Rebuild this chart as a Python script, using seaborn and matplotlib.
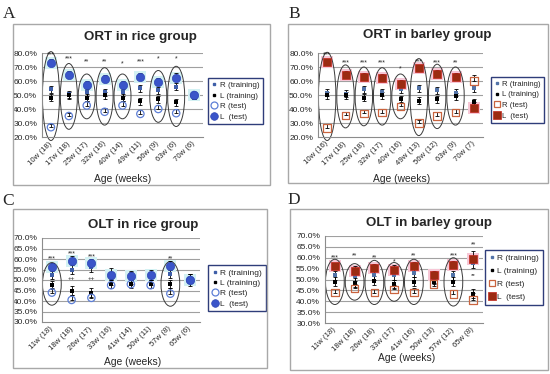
import numpy as np
import pandas as pd
import matplotlib
matplotlib.use("Agg")
import matplotlib.pyplot as plt
import matplotlib.transforms as mtransforms
import seaborn as sns
from matplotlib.lines import Line2D
from matplotlib.patches import Ellipse, Rectangle

# A - ORT in rice group
ort_rice_ages = ['10w (18)', '17w (18)', '25w (17)', '32w (16)', '40w (14)',
                 '49w (11)', '56w (9)', '63w (6)', '70w (6)']
ort_rice_L_test = [73, 64.5, 57, 61.5, 57, 63, 59.5, 62.5, 50]
ort_rice_R_test = [27, 35, 42.5, 38, 42.5, 36.5, 40, 37, 50]
ort_rice_R_train = [54, 50.5, 52, 52, 52, 55, 53.5, 56, 50]
ort_rice_L_train = [48, 50, 48, 50, 48, 45.5, 47, 45, 50]
ort_rice_err = [2.5, 2.5, 3, 2.5, 3, 3, 3, 3, 2]
ort_rice_stars = ['***', '***', '**', '**', '*', '***', '*', '*', '']
ort_rice_star_y = [80, 77, 75, 75, 73, 75, 77, 77, None]
ort_rice_circled = [1, 1, 1, 1, 1, 0, 1, 1, 0]

# B - ORT in barley group
ort_barley_ages = ['10w (16)', '17w (18)', '25w (18)', '32w (17)', '40w (16)',
                   '49w (13)', '56w (12)', '63w (9)', '70w (7)']
ort_barley_L_test = [73.5, 64.5, 63, 62.5, 58, 69, 65, 63, 40.5]
ort_barley_R_test = [26.5, 35.5, 37, 37.5, 42, 30, 35, 37.5, 60]
ort_barley_R_train = [51.5, 51, 54, 52, 54, 55, 53.5, 51.5, 55]
ort_barley_L_train = [50, 50, 48, 50, 47, 46, 47, 49, 45]
ort_barley_err = [2.5, 2.5, 2.5, 2.5, 3, 2.5, 3, 2.5, 4.5]
ort_barley_stars = ['***', '***', '***', '***', '*', '***', '***', '**', '']
ort_barley_star_y = [80, 73.6, 73.6, 73.6, 70, 75, 73.6, 73.6, None]
ort_barley_circled = [1, 1, 1, 1, 1, 1, 1, 1, 0]

# C - OLT in rice group
olt_rice_ages = ['11w (18)', '18w (18)', '26w (17)', '33w (16)', '41w (14)',
                 '50w (11)', '57w (8)', '65w (6)']
olt_rice_L_test = [56, 59, 58, 52.5, 52, 52.5, 56.5, 50]
olt_rice_R_test = [44, 40.5, 41.5, 47.5, 48, 47.5, 43.5, 50]
olt_rice_R_train = [52.5, 55, 56, 52, 52, 52, 53, 51]
olt_rice_L_train = [47.5, 45, 44, 48, 48, 48, 48, 49]
olt_rice_err = [2, 2.5, 2, 3, 2.5, 2.5, 2.5, 3]
olt_rice_stars = ['***', '***', '***', '', '', '', '**', '']
olt_rice_star_y = [61, 63.5, 62, None, None, None, 61, None]
olt_rice_marks = ['', '++', '++', '', '', '', '', '']
olt_rice_mark_y = [None, 50.5, 50.8, None, None, None, None, None]
olt_rice_circled = [1, 0, 0, 0, 0, 0, 1, 0]

# D - OLT in barley group
olt_barley_ages = ['11w (18)', '18w (18)', '26w (18)', '33w (17)', '41w (16)',
                   '50w (13)', '57w (12)', '65w (8)']
olt_barley_L_test = [56, 54, 55.5, 54.5, 56, 52, 56.7, 59.5]
olt_barley_R_test = [44, 46, 44, 45.5, 44, 48, 43.3, 40.5]
olt_barley_R_train = [52, 51.5, 52, 52, 53, 50.5, 52, 57.5]
olt_barley_L_train = [49, 48.5, 49.5, 48, 49, 49, 49, 43.5]
olt_barley_err = [1.5, 2, 1.5, 2, 2, 2, 2, 3.5]
olt_barley_stars = ['***', '**', '**', '*', '**', '', '***', '**']
olt_barley_star_y = [61, 61.7, 61, 59, 61.7, None, 61.7, 67]
olt_barley_marks = ['', '', '', '', '', '', '', '**']
olt_barley_mark_y = [None, None, None, None, None, None, None, 52]
olt_barley_circled = [1, 1, 1, 1, 1, 0, 1, 0]

legend_labels = ['R (training)', 'L (training)', 'R (test)', 'L  (test)']

W, H = 550, 374
GRAY = '#8C8C8C'

STYLES = {
    'rice': dict(marker='o', L_face='#3A55C9', L_edge='#2F47B5', R_edge='#5D7FD6',
                 halo='#D3F1F3', train_R='#3F5FA8'),
    'barley': dict(marker='s', L_face='#9B2B12', L_edge='#C3251C', R_edge='#C9643F',
                   halo='#F7C7D6', train_R='#5273A8'),
}


def fx(px):
    return px / W


def fy(py):
    return 1 - py / H


def draw_panel(fig, box, ages, L_test, R_test, R_train, L_train, err, tr_err,
               stars, star_y, circled, kind, yticks, pads, marks=None, mark_y=None):
    left, top, right, bottom = box
    ax = fig.add_axes([fx(left), fy(bottom), fx(right) - fx(left), fy(top) - fy(bottom)])
    st = STYLES[kind]
    n = len(ages)
    x = np.arange(n)
    df = pd.DataFrame({'x': x, 'L_test': L_test, 'R_test': R_test,
                       'R_train': R_train, 'L_train': L_train})

    # soft glow behind the L test markers
    ax.scatter(x, L_test, marker='s', s=80, color=st['halo'], lw=0, zorder=1)

    for i in x:
        if circled[i]:
            hi = max(L_test[i], R_test[i]) + pads[0]
            lo = min(L_test[i], R_test[i]) - pads[1]
            ax.add_patch(Ellipse((i, (hi + lo) / 2), 0.95, hi - lo, fill=False,
                                 ec='#3A3A3A', lw=0.7, zorder=2, clip_on=False))

    up = [np.zeros(n), err]
    ekw = dict(fmt='none', ecolor='black', elinewidth=0.6, capsize=1.5, capthick=0.6, zorder=3)
    ax.errorbar(x, L_test, yerr=up, **ekw)
    ax.errorbar(x, R_test, yerr=up, **ekw)
    ax.errorbar(x, R_train, yerr=tr_err, **ekw)
    ax.errorbar(x, L_train, yerr=tr_err, **ekw)

    sns.scatterplot(data=df, x='x', y='R_train', marker='s', s=5, color=st['train_R'],
                    linewidth=0, ax=ax, zorder=4)
    sns.scatterplot(data=df, x='x', y='L_train', marker='s', s=5, color='black',
                    linewidth=0, ax=ax, zorder=4)
    sns.scatterplot(data=df, x='x', y='R_test', marker=st['marker'], s=28, color='none',
                    edgecolor=st['R_edge'], linewidth=0.9, ax=ax, zorder=5)
    sns.scatterplot(data=df, x='x', y='L_test', marker=st['marker'], s=36, color=st['L_face'],
                    edgecolor=st['L_edge'], linewidth=0.5, ax=ax, zorder=6)

    for i in x:
        if stars[i]:
            ax.text(i, star_y[i] - 1, stars[i], ha='center', va='center', fontsize=5,
                    zorder=7, clip_on=False)
        if marks is not None and marks[i]:
            ax.text(i, mark_y[i], marks[i], ha='center', va='center', fontsize=4.5, zorder=7)

    ax.set_xlim(-0.5, n - 0.5)
    ax.set_ylim(yticks[0], yticks[-1])
    ax.set_yticks(yticks)
    ax.set_yticklabels([f'{v:.1f}%' for v in yticks], fontsize=6)
    ax.set_xticks(x)
    ax.set_xticklabels(ages, fontsize=5.6, rotation=45, ha='right', va='center',
                       rotation_mode='anchor')
    shift = mtransforms.ScaledTranslation(0.05, 0, fig.dpi_scale_trans)
    for lab in ax.get_xticklabels():
        lab.set_transform(lab.get_transform() + shift)
    ax.set_xticks(np.arange(n + 1) - 0.5, minor=True)
    ax.tick_params(axis='x', which='major', length=0, pad=4)
    ax.tick_params(axis='x', which='minor', length=3, color=GRAY, width=0.8)
    ax.tick_params(axis='y', length=2, color=GRAY, width=0.8, pad=1.5)
    ax.set_xlabel('')
    ax.set_ylabel('')
    ax.grid(False)
    for yv in yticks[1:]:
        ax.axhline(yv, color='#A0A0A0', lw=0.8, zorder=0)
    for side in ['top', 'right']:
        ax.spines[side].set_visible(False)
    for side in ['left', 'bottom']:
        ax.spines[side].set_color(GRAY)
        ax.spines[side].set_linewidth(0.8)
    ax.set_facecolor('white')
    return ax


def add_legend(fig, ax, kind, anchor, fontsize, spacing):
    st = STYLES[kind]
    m = st['marker']
    handles = [
        Line2D([], [], ls='none', marker='s', ms=2, color=st['train_R']),
        Line2D([], [], ls='none', marker='s', ms=2, color='black'),
        Line2D([], [], ls='none', marker=m, ms=5, mfc='none', mec=st['R_edge'], mew=0.9),
        Line2D([], [], ls='none', marker=m, ms=5.5, mfc=st['L_face'], mec=st['L_edge'], mew=0.5),
    ]
    leg = ax.legend(handles, legend_labels, loc='upper left',
                    bbox_to_anchor=(fx(anchor[0]), fy(anchor[1])),
                    bbox_transform=fig.transFigure, borderaxespad=0, fontsize=fontsize,
                    frameon=True, fancybox=False, edgecolor='#2F3D7A', framealpha=1,
                    borderpad=0.45, handlelength=0.7, handletextpad=0.3,
                    labelspacing=spacing)
    leg.get_frame().set_linewidth(1.0)
    leg.set_zorder(10)


def frame(fig, x0, y0, x1, y1):
    fig.add_artist(Rectangle((fx(x0), fy(y1)), fx(x1) - fx(x0), fy(y0) - fy(y1),
                             transform=fig.transFigure, fill=False, ec='#A8A8A8', lw=1))


sns.set_style('white')
plt.rcParams['font.family'] = ['Liberation Sans', 'DejaVu Sans']

fig = plt.figure(figsize=(5.5, 3.74), dpi=100)

ort_ticks = [20, 30, 40, 50, 60, 70, 80]
olt_ticks = [30, 35, 40, 45, 50, 55, 60, 65, 70]

frame(fig, 13, 24, 270, 185)
frame(fig, 288, 24, 548, 183)
frame(fig, 13, 209, 267, 368)
frame(fig, 290, 209, 548, 370)

axA = draw_panel(fig, (42, 53, 203, 137), ort_rice_ages, ort_rice_L_test, ort_rice_R_test,
                 ort_rice_R_train, ort_rice_L_train, ort_rice_err, 2.5, ort_rice_stars,
                 ort_rice_star_y, ort_rice_circled, 'rice', ort_ticks, (8, 9.5))
axB = draw_panel(fig, (318, 53, 483, 137), ort_barley_ages, ort_barley_L_test, ort_barley_R_test,
                 ort_barley_R_train, ort_barley_L_train, ort_barley_err, 2.5, ort_barley_stars,
                 ort_barley_star_y, ort_barley_circled, 'barley', ort_ticks, (7, 9))
axC = draw_panel(fig, (42, 238, 200, 322), olt_rice_ages, olt_rice_L_test, olt_rice_R_test,
                 olt_rice_R_train, olt_rice_L_train, olt_rice_err, 2, olt_rice_stars,
                 olt_rice_star_y, olt_rice_circled, 'rice', olt_ticks, (2.3, 6),
                 olt_rice_marks, olt_rice_mark_y)
axD = draw_panel(fig, (325, 236, 483, 323), olt_barley_ages, olt_barley_L_test, olt_barley_R_test,
                 olt_barley_R_train, olt_barley_L_train, olt_barley_err, 2, olt_barley_stars,
                 olt_barley_star_y, olt_barley_circled, 'barley', olt_ticks, (3.3, 5.5),
                 olt_barley_marks, olt_barley_mark_y)

add_legend(fig, axA, 'rice', (208, 78), 5.8, 0.35)
add_legend(fig, axB, 'barley', (491, 77), 5.6, 0.4)
add_legend(fig, axC, 'rice', (208, 265), 6.0, 0.3)
add_legend(fig, axD, 'barley', (485, 250), 6.0, 0.65)

titles = [('ORT in rice group', 140, 37), ('ORT in barley group', 427, 35),
          ('OLT in rice group', 143, 225), ('OLT in barley group', 429, 223)]
for t, px, py in titles:
    fig.text(fx(px), fy(py), t, ha='center', va='center', fontsize=9.6, fontweight='bold')

for px, py in [(123, 179), (402, 179), (133, 362), (407, 358)]:
    fig.text(fx(px), fy(py), 'Age (weeks)', ha='center', va='center', fontsize=7.4)

for letter, px, py in [('A', 9, 14), ('B', 294, 14), ('C', 8, 201), ('D', 294, 200)]:
    fig.text(fx(px), fy(py), letter, ha='center', va='center', fontsize=12.5,
             family='Liberation Serif')

fig.savefig('out.png', dpi=100)
